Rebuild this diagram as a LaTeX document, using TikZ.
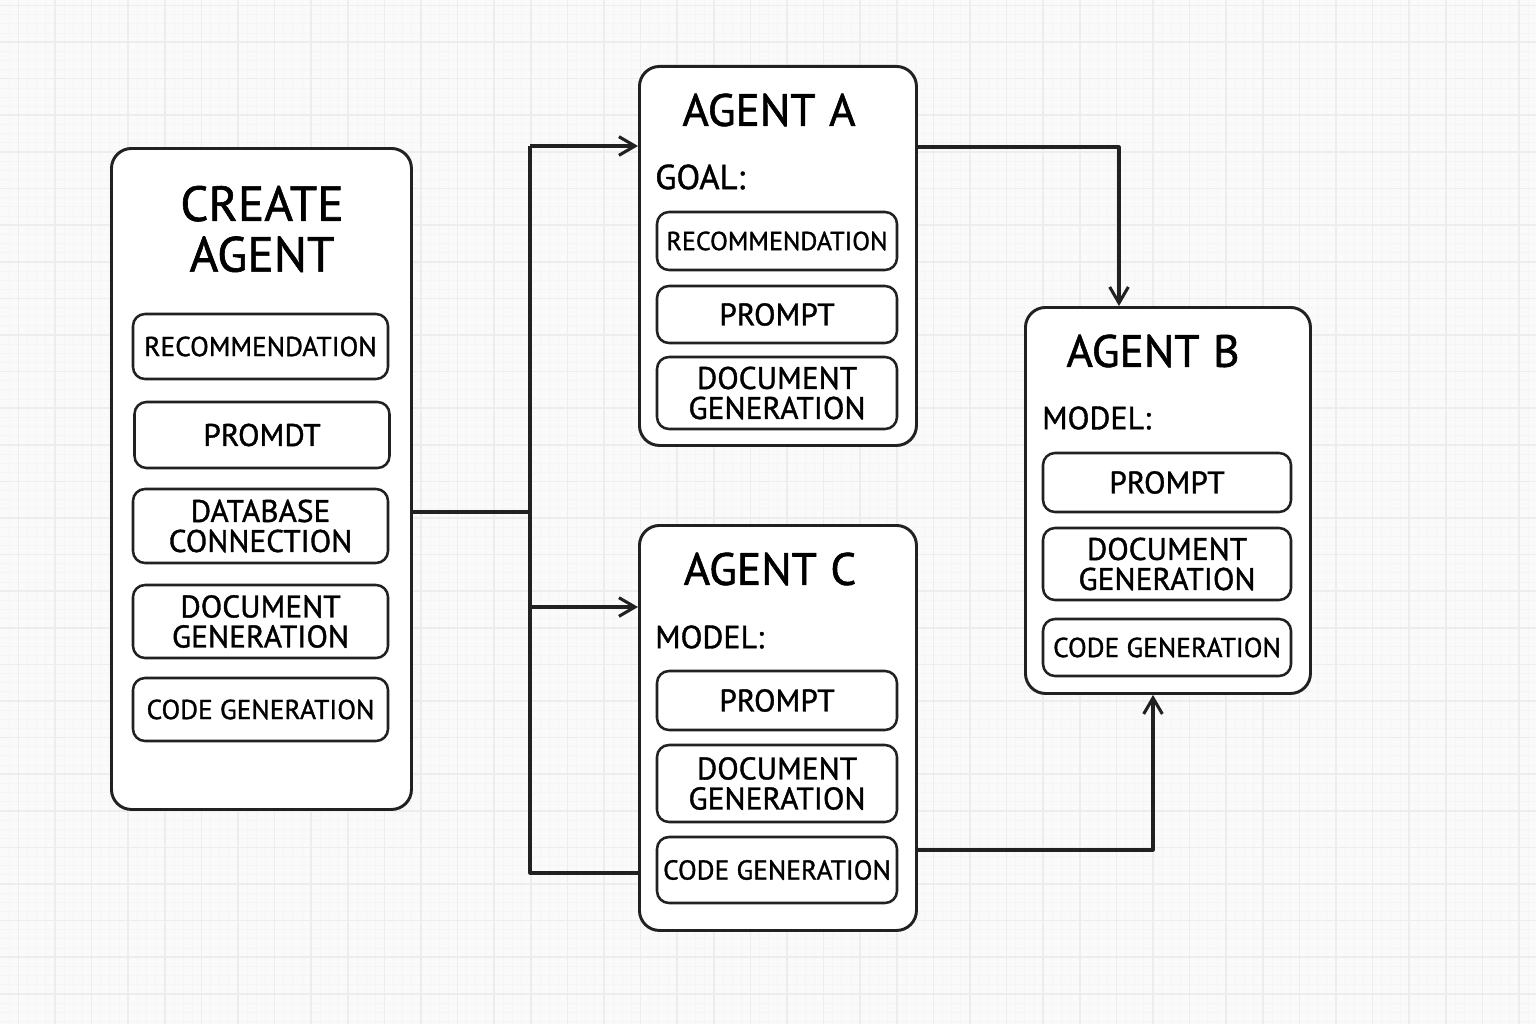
\documentclass[tikz,border=0pt]{standalone}
\usepackage{fontspec}
\setmainfont{PT Sans}[FakeBold=1.2]
\usetikzlibrary{arrows.meta}

\begin{document}
\begin{tikzpicture}[x=0.75pt, y=-0.75pt, line join=round,
    agent/.style = {draw=black!87, fill=white, line width=2.2pt, rounded corners=15pt, anchor=north west, inner sep=0pt},
    item/.style = {draw=black!87, fill=white, line width=1.9pt, rounded corners=9pt, align=center, inner sep=0pt,
      font=\fontsize{20.5}{22.5}\selectfont},
    bigtext/.style = {font=\fontsize{23.5}{22.5}\selectfont},
    title/.style = {align=center, inner sep=0pt, font=\fontsize{34}{38}\selectfont},
    field/.style = {anchor=west, inner sep=0pt, font=\fontsize{24}{26}\selectfont},
    wire/.style = {draw=black!87, line width=2.3pt},
    tip/.style = {-{Straight Barb[length=12pt, width=14pt]}}]

      % background grid
      \useasboundingbox (0,0) rectangle (1536,1024);
      \fill[black!2] (0,0) rectangle (1536,1024);
      \begin{scope}[shift={(18.3,5.5)}]
        \draw[black!4, line width=0.5pt, step=6.8625pt] (-18.3,-5.5) grid (1520,1020);
        \draw[black!7, line width=1.2pt, step=27.45pt] (-18.3,-5.5) grid (1520,1020);
      \end{scope}

      % boxes
      \node[agent, minimum width=225pt, minimum height=495.75pt] (create) at (110,147) {};
      \node[agent, minimum width=207.75pt, minimum height=284.25pt] (agentA) at (638,65) {};
      \node[agent, minimum width=207.75pt, minimum height=303.75pt] (agentC) at (638,524) {};
      \node[agent, minimum width=213.75pt, minimum height=289.5pt] (agentB) at (1024,306) {};

      \node[title, font=\fontsize{37}{38}\selectfont] (createT) at (262,229) {CREATE\\AGENT};
      \node[title] (agentAT) at (769,110) {AGENT\hspace{0.3em}A};
      \node[title] (agentCT) at (770,569) {AGENT\hspace{0.3em}C};
      \node[title] (agentBT) at (1153,351) {AGENT\hspace{0.3em}B};

      \node[field, font=\fontsize{26}{28}\selectfont] (goalA) at (655,177) {GOAL:};
      \node[field] (modelC) at (655,637) {MODEL:};
      \node[field] (modelB) at (1042,418) {MODEL:};

      % create agent items
      \node[item, minimum width=191.25pt, minimum height=48.75pt] (c1) at (260.5,346.5) {RECOMMENDATION};
      \node[item, bigtext, minimum width=191.25pt, minimum height=49.5pt] (c2) at (262,435) {PROMDT};
      \node[item, bigtext, minimum width=191.25pt, minimum height=55.5pt] (c3) at (260.5,526) {DATABASE\\CONNECTION};
      \node[item, bigtext, minimum width=191.25pt, minimum height=54.75pt] (c4) at (260.5,621.5) {DOCUMENT\\GENERATION};
      \node[item, minimum width=191.25pt, minimum height=47.25pt] (c5) at (260.5,709.5) {CODE GENERATION};

      % agent A items
      \node[item, font=\fontsize{19.5}{22}\selectfont, minimum width=180pt, minimum height=43.5pt] (a1) at (777,241) {RECOMMENDATION};
      \node[item, bigtext, minimum width=180pt, minimum height=42.75pt] (a2) at (777,314.5) {PROMPT};
      \node[item, bigtext, minimum width=180pt, minimum height=54pt] (a3) at (777,393) {DOCUMENT\\GENERATION};

      % agent C items
      \node[item, bigtext, minimum width=180pt, minimum height=44.25pt] (k1) at (777,700.5) {PROMPT};
      \node[item, bigtext, minimum width=180pt, minimum height=57.75pt] (k2) at (777,783.5) {DOCUMENT\\GENERATION};
      \node[item, minimum width=180pt, minimum height=49.5pt] (k3) at (777,870) {CODE GENERATION};

      % agent B items
      \node[item, bigtext, minimum width=186pt, minimum height=44.25pt] (b1) at (1167,482.5) {PROMPT};
      \node[item, bigtext, minimum width=186pt, minimum height=54pt] (b2) at (1167,564) {DOCUMENT\\GENERATION};
      \node[item, minimum width=186pt, minimum height=42.75pt] (b3) at (1167,647.5) {CODE GENERATION};

      % connectors
      \coordinate (fork) at (530,512);
      \coordinate (toA) at (530,146);
      \coordinate (toC) at (530,607);
      \coordinate (back) at (530,873);
      \coordinate (bendA) at (1119,147);
      \coordinate (bendC) at (1153,850);

      \path[wire]
      (create.east |- fork) -- (fork)
      (toA) -- (back) -- (back -| agentC.west)
      ;
      \path[wire, tip] (toA) -- (toA -| agentA.west);
      \path[wire, tip] (toC) -- (toC -| agentC.west);
      \path[wire, tip] (agentA.east |- bendA) -- (bendA) -- (bendA |- agentB.north);
      \path[wire, tip] (agentC.east |- bendC) -- (bendC) -- (bendC |- agentB.south);
    \end{tikzpicture}
\end{document}
